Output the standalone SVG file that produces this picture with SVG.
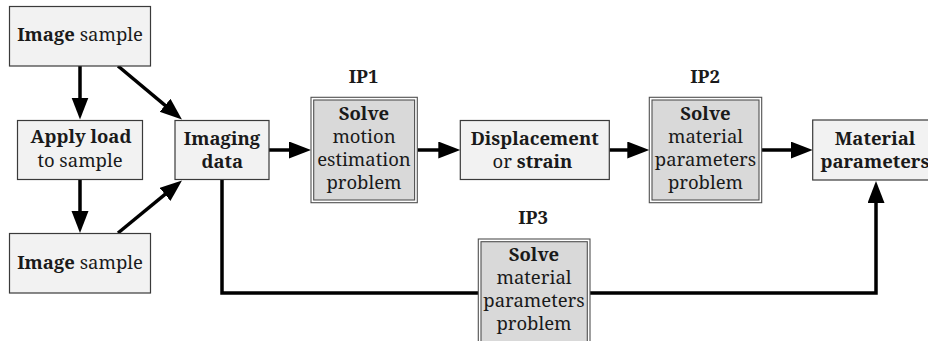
<svg xmlns="http://www.w3.org/2000/svg" width="928" height="341" viewBox="0 0 928 341">
<style>
text{font-size:18.5px;fill:#1a1a1a;text-anchor:middle}
.b{font-weight:bold}
.box{fill:#f2f2f2;stroke:#3a3a3a;stroke-width:1.2}
.outer{fill:#ffffff;stroke:#505050;stroke-width:1.1}
.inner{fill:#d9d9d9;stroke:#505050;stroke-width:1.1}
.c{fill:none;stroke:#000;stroke-width:3.5;stroke-linejoin:miter;marker-end:url(#ah)}
</style>
<defs>
<marker id="ah" markerUnits="userSpaceOnUse" markerWidth="23" markerHeight="18" refX="11" refY="8.5" orient="auto">
<path d="M0,0 L22,8.5 L0,17 z" fill="#000"/>
</marker>
</defs>
<rect width="928" height="341" fill="#fff"/>
<g id="connectors">
<line class="c" x1="80" y1="66" x2="80" y2="108.5"/>
<line class="c" x1="80" y1="180" x2="80" y2="222"/>
<line class="c" x1="118" y1="66" x2="173.5" y2="112.4"/>
<line class="c" x1="118" y1="233" x2="173.5" y2="187.4"/>
<line class="c" x1="269" y1="150" x2="300" y2="150"/>
<line class="c" x1="417.3" y1="150" x2="449.3" y2="150"/>
<line class="c" x1="609.3" y1="150" x2="638.3" y2="150"/>
<line class="c" x1="761.7" y1="150" x2="801.7" y2="150"/>
<path class="c" d="M222,180 V293 H876 V192"/>
</g>
<g id="image-sample-1">
<rect class="box" x="9.5" y="6.5" width="141" height="59.5"/>
<text font-family="Noto Serif, Liberation Serif, serif" x="80" y="41"><tspan class="b">Image</tspan> sample</text>
</g>
<g id="apply-load">
<rect class="box" x="17.5" y="120.5" width="125" height="59"/>
<text font-family="Noto Serif, Liberation Serif, serif" x="81" y="143" class="b">Apply load</text>
<text font-family="Noto Serif, Liberation Serif, serif" x="80" y="166.5">to sample</text>
</g>
<g id="image-sample-2">
<rect class="box" x="9.5" y="233.5" width="141" height="59.5"/>
<text font-family="Noto Serif, Liberation Serif, serif" x="80" y="268.5"><tspan class="b">Image</tspan> sample</text>
</g>
<g id="imaging-data">
<rect class="box" x="175" y="120.5" width="94" height="59"/>
<text font-family="Noto Serif, Liberation Serif, serif" x="222" y="144.5" class="b">Imaging</text>
<text font-family="Noto Serif, Liberation Serif, serif" x="222.3" y="168" class="b">data</text>
</g>
<g id="ip1">
<text font-family="Noto Serif, Liberation Serif, serif" x="363.5" y="83" class="b">IP1</text>
<rect class="outer" x="311" y="97.3" width="106.3" height="105.4"/>
<rect class="inner" x="313.7" y="100" width="100.9" height="100"/>
<text font-family="Noto Serif, Liberation Serif, serif" x="364" y="120" class="b">Solve</text>
<text font-family="Noto Serif, Liberation Serif, serif" x="364" y="143">motion</text>
<text font-family="Noto Serif, Liberation Serif, serif" x="364" y="166">estimation</text>
<text font-family="Noto Serif, Liberation Serif, serif" x="364" y="189">problem</text>
</g>
<g id="displacement">
<rect class="box" x="460.3" y="120.5" width="149" height="59"/>
<text font-family="Noto Serif, Liberation Serif, serif" x="534.7" y="145" class="b">Displacement</text>
<text font-family="Noto Serif, Liberation Serif, serif" x="532.5" y="168">or <tspan class="b">strain</tspan></text>
</g>
<g id="ip2">
<text font-family="Noto Serif, Liberation Serif, serif" x="705" y="83" class="b">IP2</text>
<rect class="outer" x="649.3" y="97.3" width="112.4" height="105.4"/>
<rect class="inner" x="652" y="100" width="107" height="100"/>
<text font-family="Noto Serif, Liberation Serif, serif" x="705.5" y="120" class="b">Solve</text>
<text font-family="Noto Serif, Liberation Serif, serif" x="705.5" y="143">material</text>
<text font-family="Noto Serif, Liberation Serif, serif" x="705.5" y="166">parameters</text>
<text font-family="Noto Serif, Liberation Serif, serif" x="705.5" y="189">problem</text>
</g>
<g id="material-parameters">
<rect class="box" x="812.7" y="120" width="124" height="60"/>
<text font-family="Noto Serif, Liberation Serif, serif" x="875" y="145" class="b">Material</text>
<text font-family="Noto Serif, Liberation Serif, serif" x="875" y="168" class="b">parameters</text>
</g>
<g id="ip3">
<text font-family="Noto Serif, Liberation Serif, serif" x="533" y="224" class="b">IP3</text>
<rect class="outer" x="478.3" y="239" width="111.7" height="105.4"/>
<rect class="inner" x="481" y="241.7" width="106.3" height="100"/>
<text font-family="Noto Serif, Liberation Serif, serif" x="534" y="261" class="b">Solve</text>
<text font-family="Noto Serif, Liberation Serif, serif" x="534" y="284">material</text>
<text font-family="Noto Serif, Liberation Serif, serif" x="534" y="307">parameters</text>
<text font-family="Noto Serif, Liberation Serif, serif" x="534" y="330">problem</text>
</g>
</svg>
